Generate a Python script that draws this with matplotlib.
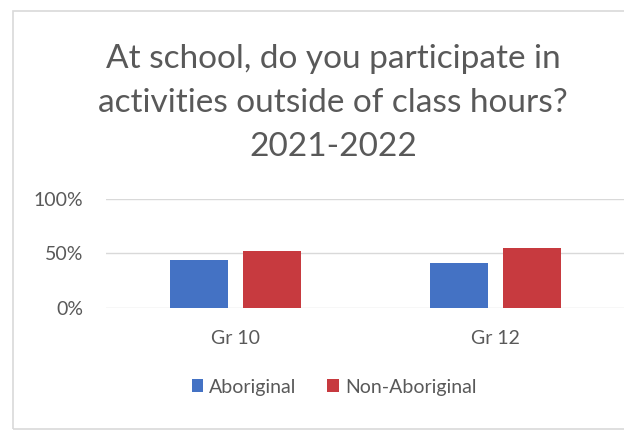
import matplotlib.pyplot as plt
import matplotlib.patches as mpatches
import numpy as np

# Participation in activities outside class hours, 2021-2022
grades = ["Gr 10", "Gr 12"]
aboriginal = [0.44, 0.41]
non_aboriginal = [0.52, 0.55]
series_names = ["Aboriginal", "Non-Aboriginal"]
yticks = [0, 0.5, 1.0]
yticklabels = ["0%", "50%", "100%"]
titulo = "At school, do you participate in\nactivities outside of class hours?\n2021-2022"

blue = "#4472C4"
red = "#C73A3F"
text_color = "#595959"

plt.rcParams['font.family'] = ['Lato', 'DejaVu Sans']

fig = plt.figure(figsize=(6.24, 4.32), dpi=100)
fig.patch.set_facecolor("white")

# light frame around the chart
frame = mpatches.Rectangle((13/624, 1 - 429/432), 1.0, (429 - 11)/432,
                           transform=fig.transFigure, fill=False,
                           edgecolor="#d9d9d9", linewidth=1.2, zorder=0)
fig.patches.append(frame)

ax = fig.add_axes([105.5/624, 1 - 307.7/432, 520/624, 109/432])
x = np.arange(len(grades))
w = 0.223
off = 0.14
ax.bar(x - off, aboriginal, w, color=blue, label=series_names[0], zorder=3)
ax.bar(x + off, non_aboriginal, w, color=red, label=series_names[1], zorder=3)

ax.set_xlim(-0.5, 1.5)
ax.set_ylim(0, 1.0)
ax.set_yticks(yticks)
ax.set_yticklabels(yticklabels, fontsize=14, color=text_color)
ax.set_xticks(x)
ax.set_xticklabels(grades, fontsize=14, color=text_color)
ax.tick_params(axis="both", length=0)
ax.tick_params(axis="y", pad=16)
ax.tick_params(axis="x", pad=16)
for s in ax.spines.values():
    s.set_visible(False)
ax.grid(axis="y", color="#d9d9d9", linewidth=1, zorder=0)

fig.text(333/624, 1 - 103/432, titulo, ha="center", va="center",
         fontsize=24, color=text_color, linespacing=1.6)

ax.legend(loc="center", bbox_to_anchor=(334/624, 1 - 387/432),
          bbox_transform=fig.transFigure, ncol=2, frameon=False,
          fontsize=14, labelcolor=text_color, handlelength=0.6,
          handleheight=0.6, handletextpad=0.3, columnspacing=1.6)

fig.savefig("out.png", dpi=100)
